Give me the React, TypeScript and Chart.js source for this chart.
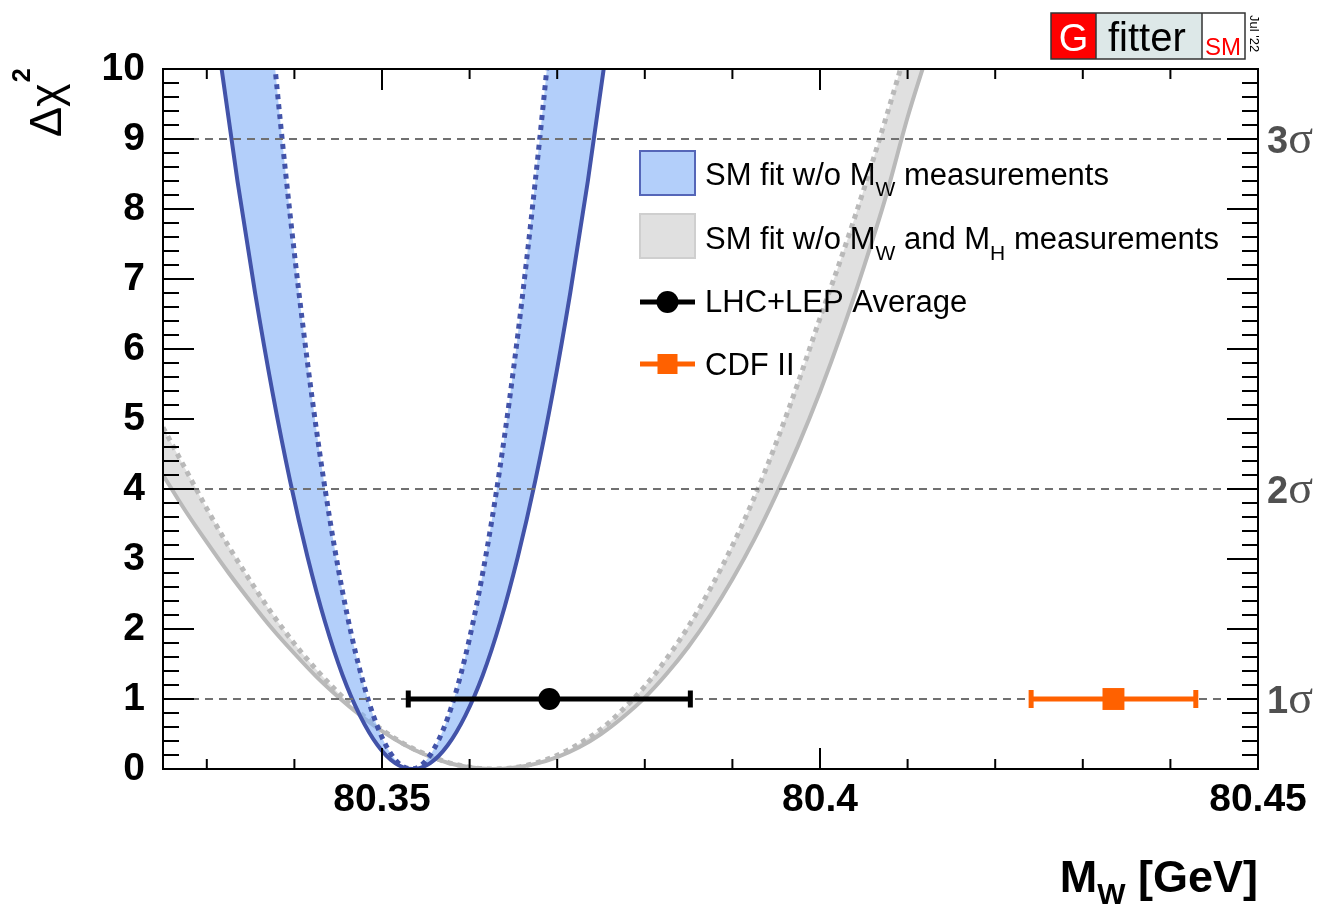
import React, { useEffect, useRef } from 'react';
import { Chart, registerables } from 'chart.js';

Chart.register(...registerables);

const W = 1322;
const H = 905;
const FONT = "'Liberation Sans', Arial, Helvetica, sans-serif";
const SERIF = "'Liberation Serif', 'Times New Roman', serif";

// ---- axes ----
const xRange = [80.325, 80.45];
const yRange = [0, 10];
const xTickLabels = [80.35, 80.4, 80.45];
const xMinorTicks = [80.33, 80.34, 80.36, 80.37, 80.38, 80.39, 80.41, 80.42, 80.43, 80.44];
const yTickLabels = [0, 1, 2, 3, 4, 5, 6, 7, 8, 9, 10];

// ---- sigma reference lines ----
const sigmaLevels = [1, 4, 9];
const sigmaNames = ['1', '2', '3'];

// ---- SM fit w/o MW measurements (blue band) ----
const blueX = [
  80.3295, 80.3315, 80.3335, 80.3355, 80.3375, 80.3395, 80.3415, 80.3435, 80.3455, 80.3475,
  80.3495, 80.3515, 80.3535, 80.3555, 80.3575, 80.3595, 80.3615, 80.3635, 80.3655, 80.3675,
  80.3695, 80.3715, 80.3735, 80.3755, 80.3775,
];
const blueWithTheory = [
  12.1, 10.17, 8.4, 6.81, 5.38, 4.12, 3.03, 2.1, 1.34, 0.76, 0.34, 0.084, 0,
  0.084, 0.34, 0.76, 1.34, 2.1, 3.03, 4.12, 5.38, 6.81, 8.4, 10.17, 12.1,
];
const blueNoTheory = [
  23.6, 19.8, 16.3, 13.2, 10.4, 7.93, 5.8, 4.0, 2.53, 1.4, 0.6, 0.135, 0.002,
  0.2, 0.73, 1.6, 2.8, 4.33, 6.2, 8.4, 10.9, 13.8, 17.0, 20.5, 24.3,
];

// ---- SM fit w/o MW and MH measurements (gray band) ----
const grayX = [
  80.325, 80.3275, 80.33, 80.3325, 80.335, 80.3375, 80.34, 80.3425, 80.345, 80.3475,
  80.35, 80.3525, 80.355, 80.3575, 80.36, 80.3625, 80.365, 80.3675, 80.37, 80.3725,
  80.375, 80.3775, 80.38, 80.3825, 80.385, 80.3875, 80.39, 80.3925, 80.395, 80.3975,
  80.4, 80.4025, 80.405, 80.4075, 80.41, 80.4125, 80.415,
];
const grayWithTheory = [
  4.2, 3.7, 3.24, 2.8, 2.39, 2.0, 1.65, 1.32, 1.03, 0.77, 0.54, 0.35, 0.2, 0.09, 0.025, 0.0,
  0.017, 0.073, 0.17, 0.31, 0.5, 0.74, 1.02, 1.36, 1.75, 2.2, 2.71, 3.28, 3.92, 4.62, 5.39,
  6.24, 7.17, 8.17, 9.31, 10.32, 11.39,
];
const grayNoTheory = [
  4.88, 4.3, 3.72, 3.18, 2.68, 2.21, 1.79, 1.42, 1.09, 0.8, 0.56, 0.36, 0.21, 0.095, 0.026, 0.0,
  0.019, 0.083, 0.195, 0.36, 0.57, 0.85, 1.18, 1.58, 2.04, 2.58, 3.19, 3.88, 4.66, 5.52, 6.44,
  7.33, 8.28, 9.29, 10.35, 11.48, 12.66,
];

// ---- measurements ----
const measNames = ['LHC+LEP Average', 'CDF II'];
const measValues = [80.3691, 80.4335];
const measErrors = [0.0161, 0.0094];
const measLevel = 1;

const BLUE_LINE = '#4253a9';
const BLUE_FILL = 'rgba(128,175,247,0.6)';
const GRAY_LINE = '#b9b9b9';
const GRAY_FILL = '#e0e0e0';
const ORANGE = '#ff6100';
const BLACK = '#000000';

const pts = (xs: number[], ys: number[]) => xs.map((x, i) => ({ x, y: ys[i] }));

function drawRich(ctx: any, parts: [string, boolean][], x: number, y: number, size: number, subSize: number, subDy: number, weight = '') {
  let cx = x;
  for (const [t, sub] of parts) {
    ctx.font = `${weight} ${sub ? subSize : size}px ${FONT}`;
    ctx.fillText(t, cx, sub ? y + subDy : y);
    cx += ctx.measureText(t).width;
  }
  return cx;
}

function richWidth(ctx: any, parts: [string, boolean][], size: number, subSize: number, weight = '') {
  let w = 0;
  for (const [t, sub] of parts) {
    ctx.font = `${weight} ${sub ? subSize : size}px ${FONT}`;
    w += ctx.measureText(t).width;
  }
  return w;
}

const decorPlugin = {
  id: 'decor',
  afterDatasetsDraw(chart: any) {
    const { ctx, chartArea: a, scales } = chart;
    const xs = scales.x;
    const ys = scales.y;
    ctx.save();
    ctx.strokeStyle = '#000';
    ctx.lineWidth = 2;
    const seg = (x1: number, y1: number, x2: number, y2: number) => {
      ctx.beginPath();
      ctx.moveTo(x1, y1);
      ctx.lineTo(x2, y2);
      ctx.stroke();
    };
    for (const v of xMinorTicks) {
      const px = xs.getPixelForValue(v);
      seg(px, a.bottom, px, a.bottom - 10);
      seg(px, a.top, px, a.top + 10);
    }
    for (const v of xTickLabels) {
      const px = xs.getPixelForValue(v);
      seg(px, a.bottom, px, a.bottom - 21);
      seg(px, a.top, px, a.top + 21);
    }
    for (let i = 0; i <= 50; i++) {
      const v = i * 0.2;
      const major = i % 5 === 0;
      const len = major ? 31 : 16;
      const py = ys.getPixelForValue(v);
      seg(a.left, py, a.left + len, py);
      seg(a.right, py, a.right - len, py);
    }
    ctx.lineWidth = 2;
    ctx.strokeRect(a.left, a.top, a.right - a.left, a.bottom - a.top);
    ctx.restore();
  },
  afterDraw(chart: any) {
    const { ctx, scales } = chart;
    const ys = scales.y;
    ctx.save();
    ctx.textAlign = 'left';
    ctx.textBaseline = 'alphabetic';
    ctx.fillStyle = '#000';

    // Y title: Δχ²
    ctx.save();
    ctx.translate(61, 137);
    ctx.rotate(-Math.PI / 2);
    ctx.font = `45px ${FONT}`;
    ctx.fillText('Δχ', 0, 0);
    const wt = ctx.measureText('Δχ').width;
    ctx.font = `bold 25px ${FONT}`;
    ctx.fillText('2', wt + 1, -31);
    ctx.restore();

    // X title: M_W [GeV]
    const xParts: [string, boolean][] = [['M', false], ['W', true], [' [GeV]', false]];
    const xw = richWidth(ctx, xParts, 45, 30, 'bold');
    ctx.fillStyle = '#000';
    drawRich(ctx, xParts, 1258 - xw, 892, 45, 30, 12, 'bold');

    // sigma labels on the right
    ctx.fillStyle = '#505050';
    sigmaLevels.forEach((lv, i) => {
      const py = ys.getPixelForValue(lv);
      ctx.font = `bold 38px ${FONT}`;
      ctx.fillText(sigmaNames[i], 1267, py + 14);
      const w = ctx.measureText(sigmaNames[i]).width;
      ctx.font = `46px ${SERIF}`;
      ctx.fillText('σ', 1267 + w, py + 14);
    });

    // Legend
    ctx.fillStyle = 'rgb(179,207,250)';
    ctx.fillRect(640, 151, 55, 44);
    ctx.strokeStyle = '#5566b8';
    ctx.lineWidth = 2;
    ctx.strokeRect(640, 151, 55, 44);
    ctx.fillStyle = GRAY_FILL;
    ctx.fillRect(640, 214, 55, 44);
    ctx.strokeStyle = '#cfcfcf';
    ctx.strokeRect(640, 214, 55, 44);

    ctx.fillStyle = '#000';
    drawRich(ctx, [['SM fit w/o M', false], ['W', true], [' measurements', false]], 705, 185, 31, 21, 11);
    drawRich(
      ctx,
      [['SM fit w/o M', false], ['W', true], [' and M', false], ['H', true], [' measurements', false]],
      705, 249, 31, 21, 11,
    );
    ctx.font = `31px ${FONT}`;
    ctx.fillText(measNames[0], 705, 312);
    ctx.fillText(measNames[1], 705, 375);

    // legend symbols
    ctx.strokeStyle = BLACK;
    ctx.lineWidth = 5;
    ctx.beginPath();
    ctx.moveTo(640, 302);
    ctx.lineTo(695, 302);
    ctx.stroke();
    ctx.fillStyle = BLACK;
    ctx.beginPath();
    ctx.arc(667.5, 302, 11, 0, Math.PI * 2);
    ctx.fill();
    ctx.strokeStyle = ORANGE;
    ctx.beginPath();
    ctx.moveTo(640, 364);
    ctx.lineTo(695, 364);
    ctx.stroke();
    ctx.fillStyle = ORANGE;
    ctx.fillRect(657.5, 354, 20, 20);

    // Gfitter logo
    ctx.fillStyle = '#ff0000';
    ctx.fillRect(1051, 13, 45, 46);
    ctx.fillStyle = '#dde8e8';
    ctx.fillRect(1096, 13, 106, 46);
    ctx.fillStyle = '#ffffff';
    ctx.fillRect(1202, 13, 43, 46);
    ctx.strokeStyle = '#333';
    ctx.lineWidth = 1.5;
    ctx.strokeRect(1051, 13, 194, 46);
    ctx.beginPath();
    ctx.moveTo(1096, 13);
    ctx.lineTo(1096, 59);
    ctx.moveTo(1202, 13);
    ctx.lineTo(1202, 59);
    ctx.stroke();
    ctx.fillStyle = '#fff';
    ctx.font = `38px ${FONT}`;
    ctx.textAlign = 'center';
    ctx.fillText('G', 1073.5, 51);
    ctx.textAlign = 'left';
    ctx.fillStyle = '#000';
    ctx.font = `40px ${FONT}`;
    ctx.fillText('fitter', 1108, 51);
    ctx.fillStyle = '#ff0000';
    ctx.font = `24px ${FONT}`;
    ctx.fillText('SM', 1205, 55);
    ctx.save();
    ctx.translate(1250, 15);
    ctx.rotate(Math.PI / 2);
    ctx.fillStyle = '#000';
    ctx.font = `13px ${FONT}`;
    ctx.fillText("Jul '22", 0, 0);
    ctx.restore();

    ctx.restore();
  },
};

export default function App() {
  const ref = useRef<HTMLCanvasElement | null>(null);

  useEffect(() => {
    const canvas = ref.current;
    if (!canvas) return;

    const errBar = (i: number, color: string, cap: number) => ({
      type: 'line',
      data: [
        { x: measValues[i] - measErrors[i], y: measLevel },
        { x: measValues[i] + measErrors[i], y: measLevel },
      ],
      borderColor: color,
      borderWidth: 5,
      pointStyle: 'line',
      pointRotation: 90,
      pointRadius: cap,
      pointBorderWidth: 5,
      pointBorderColor: color,
      pointBackgroundColor: color,
      fill: false,
    });

    const datasets: any[] = [
      {
        type: 'line',
        data: [{ x: measValues[1], y: measLevel }],
        showLine: false,
        pointStyle: 'rect',
        pointRadius: 15.5,
        pointBackgroundColor: ORANGE,
        pointBorderColor: ORANGE,
        pointBorderWidth: 0,
      },
      errBar(1, ORANGE, 9),
      {
        type: 'line',
        data: [{ x: measValues[0], y: measLevel }],
        showLine: false,
        pointStyle: 'circle',
        pointRadius: 11,
        pointBackgroundColor: BLACK,
        pointBorderColor: BLACK,
        pointBorderWidth: 0,
      },
      errBar(0, BLACK, 8.5),
      ...sigmaLevels.map((lv) => ({
        type: 'line',
        data: [
          { x: xRange[0], y: lv },
          { x: xRange[1], y: lv },
        ],
        borderColor: '#707070',
        borderWidth: 2,
        borderDash: [8, 6],
        pointRadius: 0,
        fill: false,
      })),
      {
        type: 'line',
        data: pts(blueX, blueWithTheory),
        borderColor: BLUE_LINE,
        borderWidth: 4,
        pointRadius: 0,
        cubicInterpolationMode: 'monotone',
        fill: false,
        clip: 0,
      },
      {
        type: 'line',
        data: pts(blueX, blueNoTheory),
        borderColor: BLUE_LINE,
        borderWidth: 5,
        borderDash: [5, 5],
        pointRadius: 0,
        cubicInterpolationMode: 'monotone',
        fill: '-1',
        backgroundColor: BLUE_FILL,
        clip: 0,
      },
      {
        type: 'line',
        data: pts(grayX, grayWithTheory),
        borderColor: GRAY_LINE,
        borderWidth: 4,
        pointRadius: 0,
        cubicInterpolationMode: 'monotone',
        fill: false,
        clip: 0,
      },
      {
        type: 'line',
        data: pts(grayX, grayNoTheory),
        borderColor: GRAY_LINE,
        borderWidth: 5,
        borderDash: [5, 5],
        pointRadius: 0,
        cubicInterpolationMode: 'monotone',
        fill: '-1',
        backgroundColor: GRAY_FILL,
        clip: 0,
      },
    ];

    const tickFont = { family: FONT, size: 39, weight: 'bold' as const };

    const chart = new Chart(canvas, {
      type: 'line',
      data: { datasets },
      options: {
        responsive: false,
        animation: false,
        devicePixelRatio: 1,
        events: [],
        layout: { padding: { left: 0, right: 64, top: 69, bottom: 0 } },
        plugins: {
          legend: { display: false },
          tooltip: { enabled: false },
        },
        scales: {
          x: {
            type: 'linear',
            min: xRange[0],
            max: xRange[1],
            afterBuildTicks: (s: any) => {
              s.ticks = xTickLabels.map((v) => ({ value: v }));
            },
            afterFit: (s: any) => {
              s.height = 136;
            },
            grid: { display: false, drawTicks: false },
            border: { display: false },
            ticks: {
              autoSkip: false,
              maxRotation: 0,
              padding: 8,
              color: '#000',
              font: tickFont,
              callback: (v: any) => String(Number(Number(v).toFixed(3))),
            },
          },
          y: {
            type: 'linear',
            min: yRange[0],
            max: yRange[1],
            afterBuildTicks: (s: any) => {
              s.ticks = yTickLabels.map((v) => ({ value: v }));
            },
            afterFit: (s: any) => {
              s.width = 163;
            },
            grid: { display: false, drawTicks: false },
            border: { display: false },
            ticks: {
              padding: 18,
              color: '#000',
              font: tickFont,
              callback: (v: any) => String(v),
            },
          },
        },
      } as any,
      plugins: [decorPlugin as any],
    } as any);

    return () => chart.destroy();
  }, []);

  return (
    <div style={{ position: 'absolute', left: 0, top: 0, width: W, height: H, background: '#fff' }}>
      <canvas ref={ref} width={W} height={H} style={{ display: 'block', width: W, height: H }} />
    </div>
  );
}
